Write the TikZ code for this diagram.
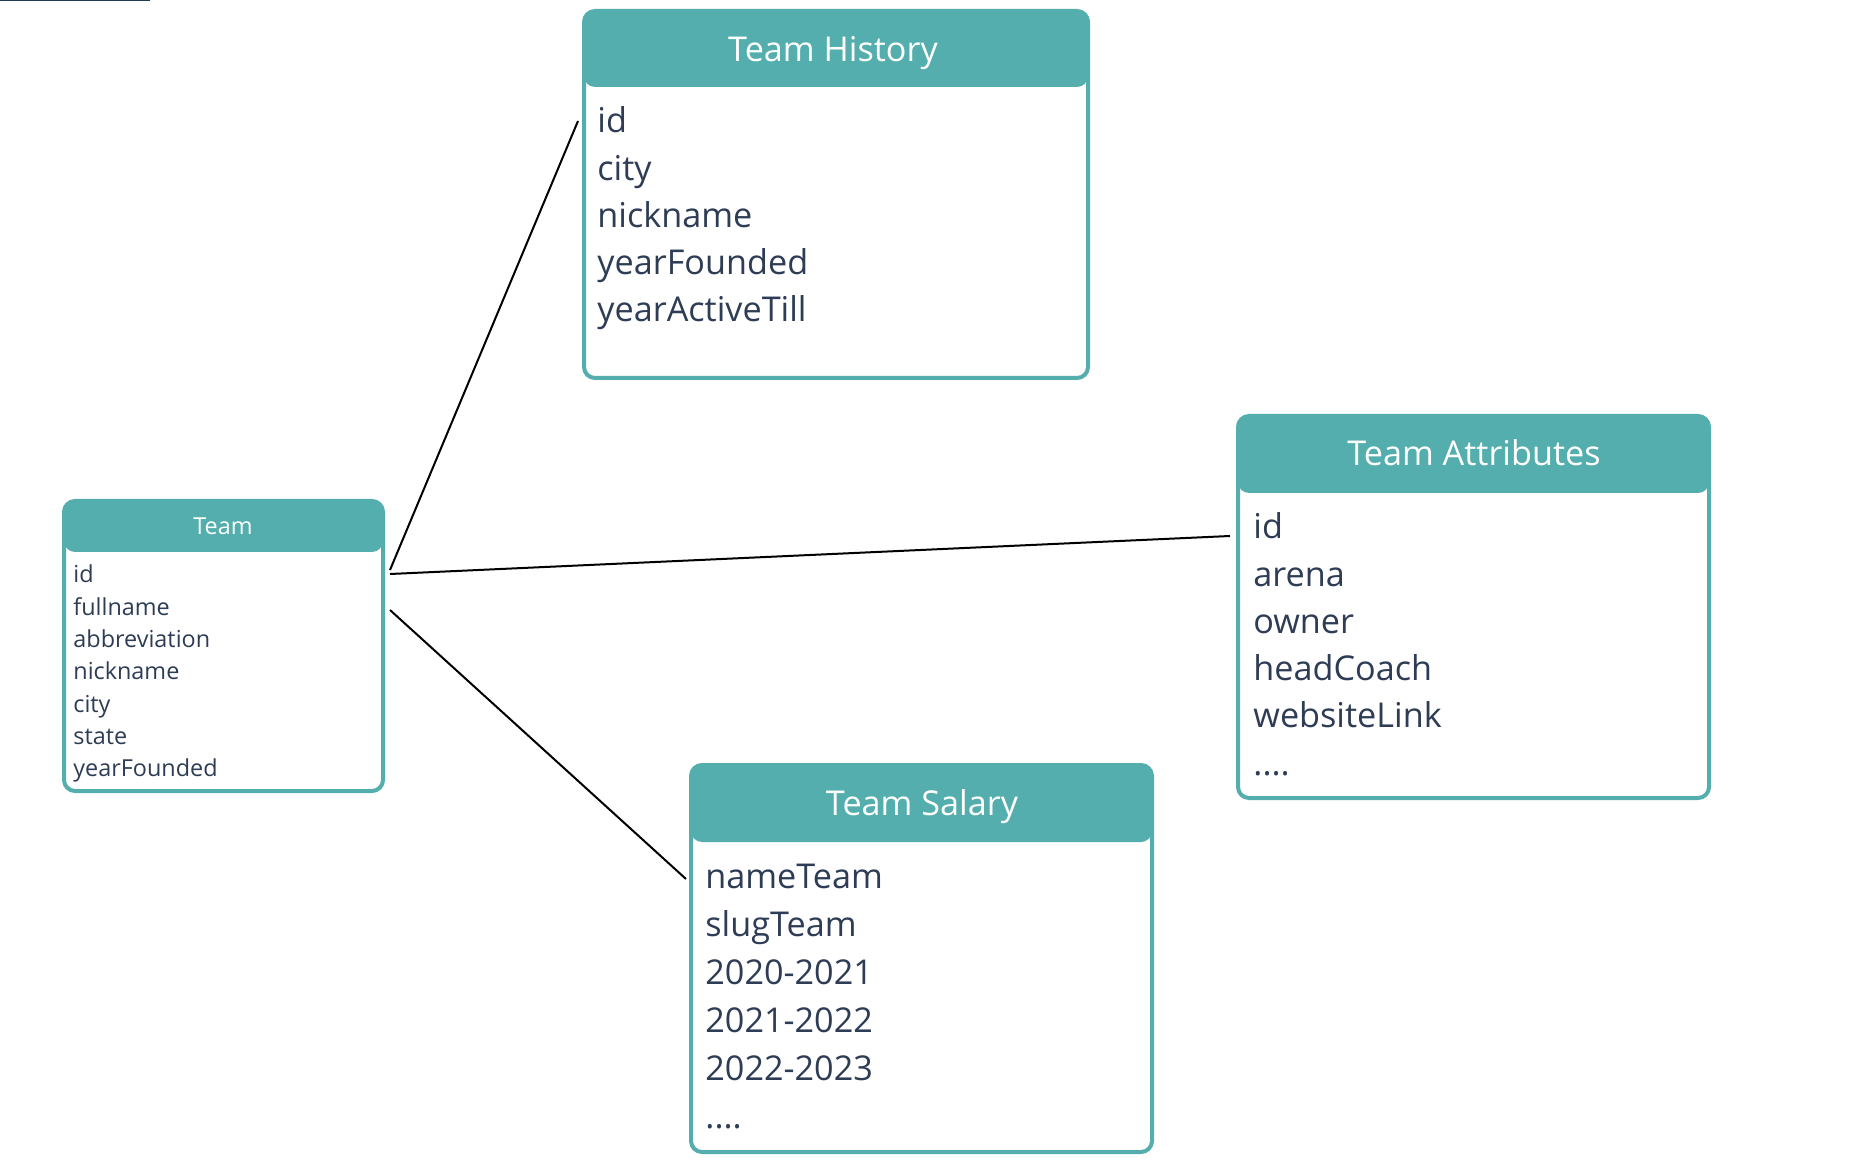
\documentclass[tikz,border=0pt]{standalone}
\usepackage{fontspec}
\setmainfont{Open Sans}
\usetikzlibrary{calc}
\definecolor{tealc}{HTML}{53AEAD}
\definecolor{txt}{HTML}{2E3D55}
\definecolor{barc}{HTML}{1F3A5A}
\tikzset{
  tbl/.style={draw=tealc, line width=2pt, rounded corners=5.5pt, fill=white, inner sep=0pt, outer sep=0pt, anchor=north west},
  hdr/.style={path picture={\fill[tealc] (path picture bounding box.north west) rectangle ([yshift=-#1]path picture bounding box.north east);}},
  ttl/.style={text=white, anchor=base, inner sep=0pt},
  row/.style={text=txt, anchor=base west, inner sep=0pt},
  big/.style={font=\fontsize{17.1}{20}\selectfont},
  small/.style={font=\fontsize{11.7}{14}\selectfont},
  link/.style={draw=black, line width=1pt}
}
\begin{document}
\begin{tikzpicture}[x=0.5pt,y=-0.5pt]
\fill[white] (0,0) rectangle (1874,1170);
\useasboundingbox (0,0) rectangle (1874,1170);
\fill[barc] (0,0) rectangle (150,1.5);

% Team
\node[tbl, hdr=25.5pt, minimum width=159.5pt, minimum height=145pt] (team) at (64,501) {};
\node[ttl, small] (teamT) at (223,535) {Team};
\foreach \t [count=\i from 0] in {id,fullname,abbreviation,nickname,city,state,yearFounded}
  \node[row, small] (team-r\i) at (73,{583+32.3*\i}) {\t};

% Team History
\node[tbl, hdr=38pt, minimum width=252pt, minimum height=183.5pt] (th) at (584,11) {};
\node[ttl, big] (thT) at (833,62) {Team History};
\foreach \t [count=\i from 0] in {id,city,nickname,yearFounded,yearActiveTill}
  \node[row, big] (th-r\i) at (597,{133+47.2*\i}) {\t};

% Team Attributes
\node[tbl, hdr=38.5pt, minimum width=235.5pt, minimum height=191pt] (ta) at (1238,416) {};
\node[ttl, big] (taT) at (1474,466) {Team Attributes};
\foreach \t [count=\i from 0] in {id,arena,owner,headCoach,websiteLink}
  \node[row, big] (ta-r\i) at (1253,{539+47.2*\i}) {\t};
\node[row, big] (ta-r5) at (1253,775) {....};

% Team Salary
\node[tbl, hdr=38.5pt, minimum width=230.5pt, minimum height=193.5pt] (ts) at (691,765) {};
\node[ttl, big] (tsT) at (922,815) {Team Salary};
\foreach \t [count=\i from 0] in {nameTeam,slugTeam,2020-2021,2021-2022,2022-2023}
  \node[row, big] (ts-r\i) at (705,{888+48*\i}) {\t};
\node[row, big] (ts-r5) at (705,1128) {....};

% connectors
\coordinate (s1) at ($(team.north east)+(7,69)$);
\coordinate (s2) at ($(team.north east)+(7,73)$);
\coordinate (s3) at ($(team.north east)+(7,109)$);
\coordinate (e1) at ($(th.north west)+(-6,110)$);
\coordinate (e2) at ($(ta.north west)+(-8,120)$);
\coordinate (e3) at ($(ts.north west)+(-5,114)$);
\draw[link] (s1) -- (e1);
\draw[link] (s2) -- (e2);
\draw[link] (s3) -- (e3);
\end{tikzpicture}
\end{document}
